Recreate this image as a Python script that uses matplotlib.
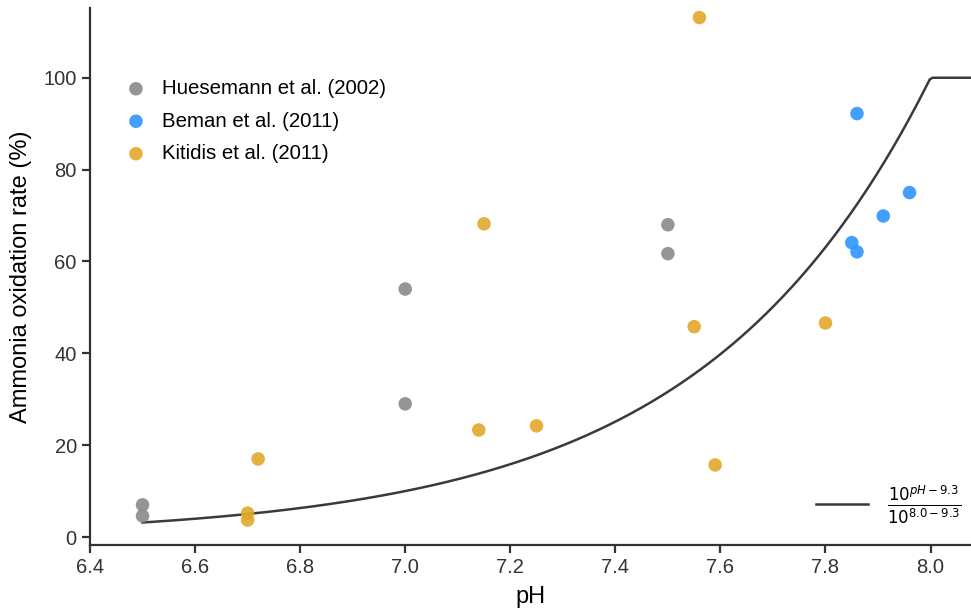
import numpy as np
import matplotlib.pyplot as plt

plt.rcParams['font.family'] = ['Liberation Sans', 'DejaVu Sans']
plt.rcParams['mathtext.fontset'] = 'dejavusans'

# measured ammonia oxidation rates (% of rate at pH 8.0)
huesemann_ph = [6.5, 6.5, 7.0, 7.0, 7.5, 7.5]
huesemann_rate = [7.0, 4.6, 54.0, 29.0, 68.0, 61.7]

beman_ph = [7.86, 7.85, 7.86, 7.91, 7.96]
beman_rate = [92.2, 64.1, 62.1, 69.9, 75.0]

kitidis_ph = [7.56, 7.15, 7.55, 7.80, 7.14, 7.25, 7.59, 6.72, 6.70, 6.70]
kitidis_rate = [113.1, 68.2, 45.8, 46.6, 23.3, 24.2, 15.7, 17.0, 5.2, 3.7]

# model: rate scales with NH3 fraction, capped at 100 %
ph_model = np.linspace(6.5, 8.1, 300)
rate_model = np.minimum(10 ** (ph_model - 9.3) / 10 ** (8.0 - 9.3) * 100, 100)

fig = plt.figure(figsize=(9.71, 6.11), dpi=100)
ax = fig.add_axes([0.0927, 0.108, 0.9073, 0.879])

line, = ax.plot(ph_model, rate_model, color='#3a3a3a', lw=1.8, zorder=2)

sc1 = ax.scatter(huesemann_ph, huesemann_rate, s=95, color='#8a8a8a', alpha=0.9,
                 edgecolors='none', label='Huesemann et al. (2002)', zorder=3)
sc2 = ax.scatter(beman_ph, beman_rate, s=95, color='#2e95ff', alpha=0.9,
                 edgecolors='none', label='Beman et al. (2011)', zorder=3)
sc3 = ax.scatter(kitidis_ph, kitidis_rate, s=95, color='#e2a82a', alpha=0.9,
                 edgecolors='none', label='Kitidis et al. (2011)', zorder=3)

ax.set_xlim(6.4, 8.077)
ax.set_ylim(-1.74, 115.2)
ax.set_xticks([6.4, 6.6, 6.8, 7.0, 7.2, 7.4, 7.6, 7.8, 8.0])
ax.set_yticks([0, 20, 40, 60, 80, 100])
ax.set_xlabel('pH', fontsize=17, labelpad=6)
ax.set_ylabel('Ammonia oxidation rate (%)', fontsize=17, labelpad=8)

for side in ['top', 'right']:
    ax.spines[side].set_visible(False)
for side in ['left', 'bottom']:
    ax.spines[side].set_color('#333333')
    ax.spines[side].set_linewidth(1.6)
ax.tick_params(axis='both', labelsize=14.5, length=6, width=1.6,
               color='#333333', labelcolor='#333333')

leg1 = ax.legend(handles=[sc1, sc2, sc3], loc='upper left',
                 bbox_to_anchor=(0.0, 0.915), frameon=False, fontsize=14.7,
                 handletextpad=0.3, labelspacing=0.66, borderaxespad=0.85)
ax.add_artist(leg1)

ax.legend(handles=[line], labels=[r'$\frac{10^{pH-9.3}}{10^{8.0-9.3}}$'],
          loc='lower right', bbox_to_anchor=(1.0, 0.016), frameon=False,
          fontsize=17, handlelength=2.2, borderaxespad=0.0)

fig.savefig('out.png', dpi=100)
